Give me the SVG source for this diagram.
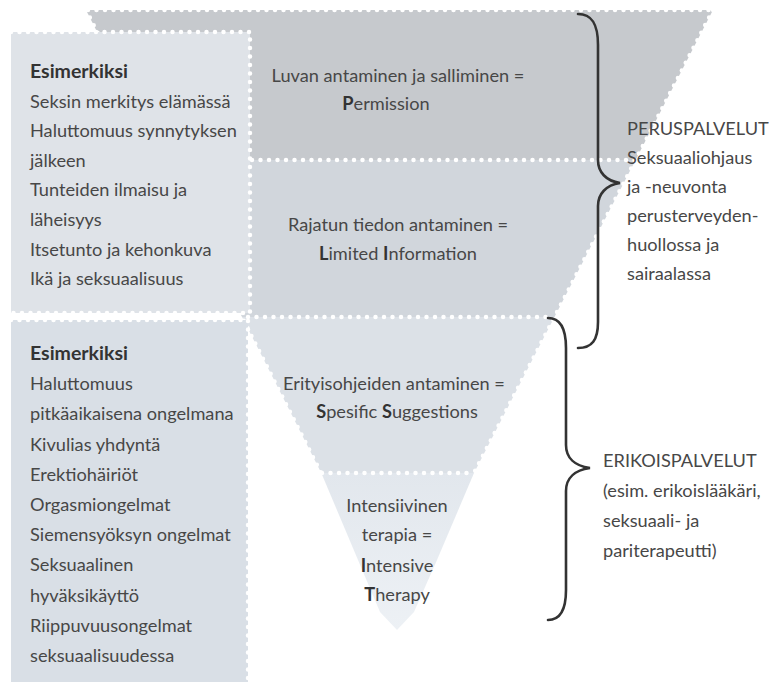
<svg xmlns="http://www.w3.org/2000/svg" width="777" height="682" viewBox="0 0 777 682">
<defs>
<linearGradient id="g4" x1="0" y1="0" x2="0" y2="1">
<stop offset="0" stop-color="#e2e7ed"/>
<stop offset="1" stop-color="#edf1f5"/>
</linearGradient>
</defs>
<style>
text{font-family:Lato,"Liberation Sans",sans-serif;font-size:18.2px;fill:#474747}
.c{text-anchor:middle}
.b{font-weight:bold;fill:#333}
.h{font-size:19.5px}
.dots{fill:none;stroke:#fff;stroke-width:4.5;stroke-linecap:round;stroke-dasharray:0 8.5}
.brace{fill:none;stroke:#333;stroke-width:2.6;stroke-linecap:round}
</style>
<rect width="777" height="682" fill="#fff"/>
<g id="pyramid">
<g id="band-permission">
<polygon points="86,10 713,10 635.6,160 162.2,160" fill="#c6c9cd"/>
<text class="c" x="398" y="82">Luvan antaminen ja salliminen =</text>
<text class="c" x="386" y="110"><tspan class="b">P</tspan>ermission</text>
</g>
<g id="band-limited-information">
<polygon points="162.2,160 635.6,160 554.5,317 242,317" fill="#d1d6dc"/>
<text class="c" x="398" y="231">Rajatun tiedon antaminen =</text>
<text class="c" x="398" y="260"><tspan class="b">L</tspan>imited <tspan class="b">I</tspan>nformation</text>
</g>
<g id="band-specific-suggestions">
<polygon points="242,317 554.5,317 474,473 321.3,473" fill="#dce1e7"/>
<text class="c" x="394" y="390">Erityisohjeiden antaminen =</text>
<text class="c" x="397" y="418"><tspan class="b">S</tspan>pesific <tspan class="b">S</tspan>uggestions</text>
</g>
<g id="band-intensive-therapy">
<polygon points="321.3,473 474,473 437,560 414,612 397,630 380,612 358,560" fill="url(#g4)"/>
<text class="c" x="397" y="512">Intensiivinen</text>
<text class="c" x="397" y="541">terapia =</text>
<text class="c" x="397" y="572"><tspan class="b">I</tspan>ntensive</text>
<text class="c" x="397" y="601"><tspan class="b">T</tspan>herapy</text>
</g>
<path class="dots" d="M88,10 H713 M713,10 L474,473 M86,10 L321,473"/>
<path class="dots" d="M252,160 H636 M248,317 H554 M322,473 H474"/>
</g>
<g id="box-examples-1">
<rect x="11" y="32" width="239" height="281" fill="#dfe3e8"/>
<path class="dots" d="M11,32 H250 V313 H11"/>
<text class="b h" x="30" y="78">Esimerkiksi</text>
<text x="30" y="107.6">Seksin merkitys elämässä</text>
<text x="30" y="137.2">Haluttomuus synnytyksen</text>
<text x="30" y="166.8">jälkeen</text>
<text x="30" y="196.4">Tunteiden ilmaisu ja</text>
<text x="30" y="226">läheisyys</text>
<text x="30" y="255.6">Itsetunto ja kehonkuva</text>
<text x="30" y="285.2">Ikä ja seksuaalisuus</text>
</g>
<g id="box-examples-2">
<rect x="11" y="320" width="237" height="362" fill="#d9dfe6"/>
<path class="dots" d="M11,320 H248 V682"/>
<text class="b h" x="30" y="360">Esimerkiksi</text>
<text x="30" y="390.2">Haluttomuus</text>
<text x="30" y="420.4">pitkäaikaisena ongelmana</text>
<text x="30" y="450.6">Kivulias yhdyntä</text>
<text x="30" y="480.8">Erektiohäiriöt</text>
<text x="30" y="511">Orgasmiongelmat</text>
<text x="30" y="541.2">Siemensyöksyn ongelmat</text>
<text x="30" y="571.4">Seksuaalinen</text>
<text x="30" y="601.6">hyväksikäyttö</text>
<text x="30" y="631.8">Riippuvuusongelmat</text>
<text x="30" y="662">seksuaalisuudessa</text>
</g>
<g id="connectors">
<path class="brace" d="M578,14 C592,14 598,24 598,45 L598,160 C598,172 606,181 620,183 C606,185 598,194 598,206 L598,322 C598,340 592,348 578,348"/>
<path class="brace" d="M548,318 C560,318 566,328 566,348 L566,445 C566,458 575,466 590,468 C575,470 566,478 566,491 L566,590 C566,610 560,620 548,620"/>
</g>
<g id="label-peruspalvelut">
<text x="627" y="135">PERUSPALVELUT</text>
<text x="627" y="164">Seksuaaliohjaus</text>
<text x="627" y="193">ja -neuvonta</text>
<text x="627" y="222">perusterveyden-</text>
<text x="627" y="251">huollossa ja</text>
<text x="627" y="280">sairaalassa</text>
</g>
<g id="label-erikoispalvelut">
<text x="603" y="467">ERIKOISPALVELUT</text>
<text x="603" y="497">(esim. erikoislääkäri,</text>
<text x="603" y="527">seksuaali- ja</text>
<text x="603" y="557">pariterapeutti)</text>
</g>
</svg>
